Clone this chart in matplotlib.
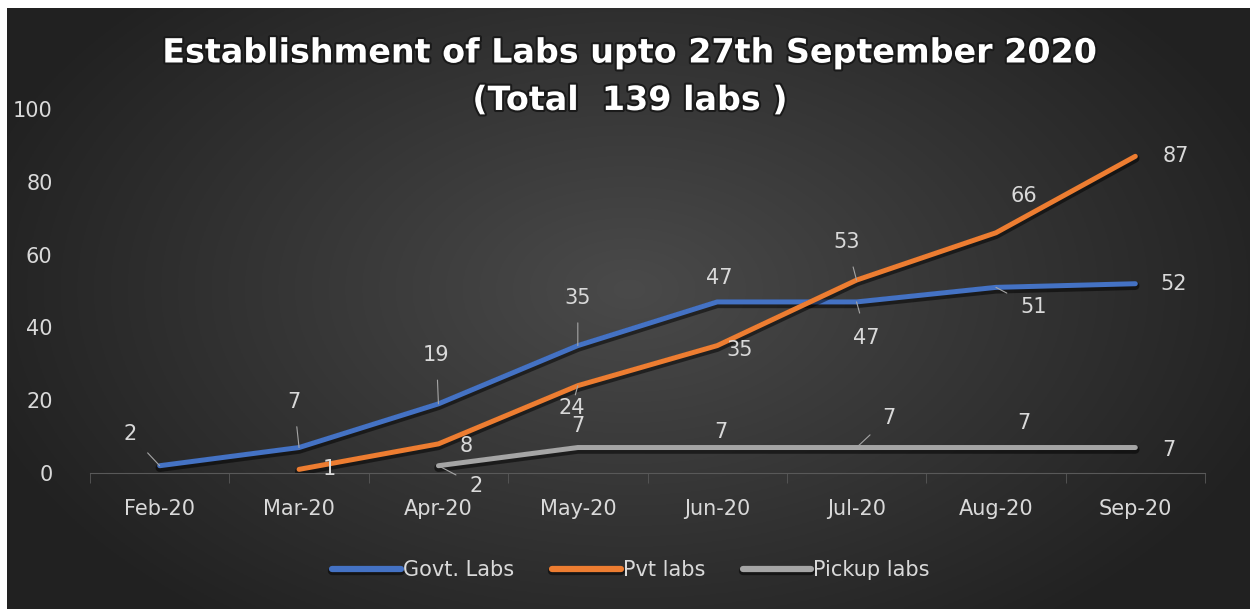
import numpy as np
import matplotlib.pyplot as plt
import matplotlib.patheffects as pe

# data
months = ["Feb-20", "Mar-20", "Apr-20", "May-20", "Jun-20", "Jul-20", "Aug-20", "Sep-20"]
govt = [2, 7, 19, 35, 47, 47, 51, 52]
pvt = [None, 1, 8, 24, 35, 53, 66, 87]
pickup = [None, None, 2, 7, 7, 7, 7, 7]

# label offsets in pixels (dx, dy) and whether a leader line is drawn
govt_off = [(-30, 32, True), (-5, 46, True), (-2, 49, True), (0, 48, True),
            (2, 24, False), (10, -36, True), (38, -20, True), (38, 0, False)]
pvt_off = [None, (30, 0, False), (28, -2, False), (-6, -22, True),
           (22, -4, False), (-10, 38, True), (28, 37, False), (40, 0, False)]
pickup_off = [None, None, (38, -20, True), (0, 22, False),
              (4, 16, False), (32, 30, True), (28, 25, False), (34, -2, False)]

plt.rcParams['font.family'] = ['DejaVu Sans']

fig = plt.figure(figsize=(12.5, 6.09), dpi=100, facecolor="white")

# dark radial background
bg = fig.add_axes([7 / 1250, 0, 1 - 7 / 1250, 601 / 609])
yy, xx = np.mgrid[0:300, 0:600]
r = np.sqrt(((xx - 300) / 330.0) ** 2 + ((yy - 140) / 210.0) ** 2)
g = np.clip(0.29 - 0.16 * r, 0.13, 0.29)
bg.imshow(np.dstack([g, g, g]), aspect="auto", extent=[0, 1, 0, 1])
bg.axis("off")

ax = fig.add_axes([90 / 1250, (609 - 473) / 609, 1115 / 1250, 364 / 609])
ax.set_facecolor("none")

x = np.arange(len(months))
txt_col = "#d9d9d9"
shadow = [pe.SimpleLineShadow(offset=(0, -1.5), shadow_color="black", alpha=0.5, linewidth=6), pe.Normal()]

series = [("Govt. Labs", govt, "#4472c4", govt_off),
          ("Pvt labs", pvt, "#ed7d31", pvt_off),
          ("Pickup labs", pickup, "#a5a5a5", pickup_off)]

for name, vals, col, offs in series:
    xs = [i for i, v in enumerate(vals) if v is not None]
    ys = [v for v in vals if v is not None]
    ax.plot(xs, ys, color=col, lw=3.6, solid_capstyle="round", solid_joinstyle="round",
            label=name, path_effects=shadow, zorder=3)
    for i, v in zip(xs, ys):
        dx, dy, lead = offs[i]
        ap = dict(arrowstyle="-", color="#a6a6a6", lw=0.8, shrinkA=9, shrinkB=0) if lead else None
        ax.annotate(str(v), (i, v), xytext=(dx, dy), textcoords="offset pixels",
                    ha="center", va="center", color=txt_col, fontsize=15,
                    arrowprops=ap, zorder=5)

ax.set_xlim(-0.5, len(months) - 0.5)
ax.set_ylim(0, 100)
ax.set_xticks(x)
ax.set_xticklabels(months)
ax.set_xticks(np.arange(-0.5, len(months), 1), minor=True)
ax.tick_params(axis="x", which="major", length=0, pad=19, labelsize=15, labelcolor=txt_col)
ax.tick_params(axis="x", which="minor", length=7, color="#595959")
ax.set_yticks(np.arange(0, 101, 20))
ax.tick_params(axis="y", length=0, pad=27, labelsize=15, labelcolor=txt_col)

for s in ["top", "right", "left"]:
    ax.spines[s].set_visible(False)
ax.spines["bottom"].set_color("#595959")

title_fx = [pe.withStroke(linewidth=3, foreground="#1a1a1a")]
fig.text(0.504, 0.913, "Establishment of Labs upto 27th September 2020",
         ha="center", va="center", color="white", fontsize=24, fontweight="bold",
         path_effects=title_fx)
fig.text(0.504, 0.835, "(Total  139 labs )",
         ha="center", va="center", color="white", fontsize=24, fontweight="bold",
         path_effects=title_fx)

leg = fig.legend(loc="center", bbox_to_anchor=(0.505, 0.064), ncol=3, frameon=False,
                 fontsize=15, handlelength=3.3, handletextpad=0.1, columnspacing=1.8)
for line in leg.get_lines():
    line.set_linewidth(4.5)
for t in leg.get_texts():
    t.set_color(txt_col)

fig.savefig("out.png", dpi=100, facecolor=fig.get_facecolor())
